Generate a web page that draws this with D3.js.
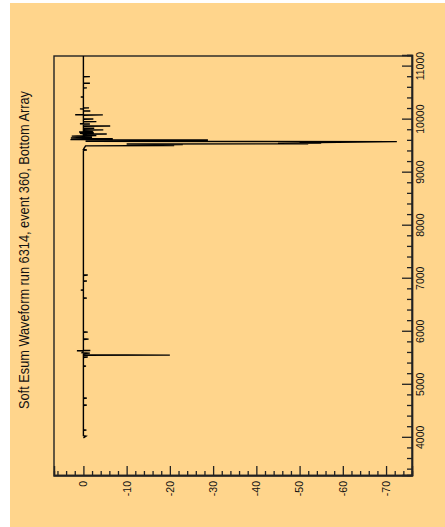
<!DOCTYPE html>
<html lang="en">
<head>
<meta charset="utf-8">
<style>
  body { margin: 0; background: #fff; }
  svg { display: block; }
  .frame { fill: none; stroke: #222; stroke-width: 1.4px; }
  .wave { fill: none; stroke: #000; stroke-width: 1.4px; }
  .axis path { stroke: #222; stroke-width: 1.4px; }
  .axis line { stroke: #222; stroke-width: 1.3px; }
  .axis text { font-family: "Liberation Sans", Arial, sans-serif; font-size: 10.5px; fill: #111; }
  .title { font-family: "Liberation Sans", Arial, sans-serif; font-size: 14.5px; fill: #111; }
</style>
<script src="https://d3js.org/d3.v7.min.js"></script>
</head>
<body>
<script>
var titleText = "Soft Esum Waveform run 6314, event 360, Bottom Array";

// sample axis (vertical, right side) and amplitude axis (bottom)
var sampleTicks = [4000, 5000, 6000, 7000, 8000, 9000, 10000, 11000];
var sampleMinor = [3400, 3600, 3800, 4200, 4400, 4600, 4800, 5200, 5400, 5600, 5800,
                   6200, 6400, 6600, 6800, 7200, 7400, 7600, 7800, 8200, 8400, 8600, 8800,
                   9200, 9400, 9600, 9800, 10200, 10400, 10600, 10800, 11200];
var valueTicks = [0, -10, -20, -30, -40, -50, -60, -70];
var valueMinor = [6, 4, 2, -2, -4, -6, -8, -12, -14, -16, -18, -22, -24, -26, -28,
                  -32, -34, -36, -38, -42, -44, -46, -48, -52, -54, -56, -58,
                  -62, -64, -66, -68, -72, -74];

// waveform
var wfSample = [4000, 4031, 4040, 4140, 4145, 4155, 4610, 4617, 4625, 4740, 4749, 4758,
                5345, 5353, 5360, 5515, 5523, 5530, 5555, 5560, 5566, 5590, 5598, 5605,
                5636, 5641, 5646, 5652, 5855, 5862, 5870, 5988, 5994, 6000, 6630, 6635,
                6642, 6780, 6786, 6792, 6950, 6956, 6962, 7062, 7069, 7076, 9420, 9428,
                9436, 9480, 9490, 9505, 9512, 9520, 9530, 9540, 9545, 9552, 9560, 9565,
                9585, 9592, 9598, 9603, 9610, 9617, 9624, 9632, 9640, 9646, 9655, 9662,
                9668, 9674, 9679, 9684, 9690, 9696, 9702, 9708, 9725, 9730, 9735, 9744,
                9750, 9758, 9764, 9768, 9772, 9777, 9782, 9801, 9806, 9811, 9833, 9838,
                9843, 9876, 9881, 9886, 9914, 9919, 9922, 9926, 9957, 9962, 9967, 10008,
                10013, 10018, 10084, 10089, 10093, 10097, 10160, 10164, 10168, 10198, 10202, 10206,
                10217, 10221, 10225, 10424, 10428, 10432, 10594, 10598, 10602, 10683, 10687, 10691,
                10807, 10811, 10815, 11200];
var wfValue  = [0, -0.6, 0, 0, -0.7, 0, 0, -0.8, 0, 0, -0.8, 0,
                0, -0.6, 0, 0, -1.0, 0, 0, -20, 0, 0, -1.5, 0.3,
                0, 1.5, -1.6, 0, 0, -1.2, 0, 0, -1.0, 0, 0, -0.8,
                0, 0, 0.6, 0, 0, -0.8, 0, 0, -1.0, 0, 0, -0.8,
                0, -0.3, -0.4, -0.5, -21, -13, -23, -10, -52, -45, -55, -50,
                -72.5, -0.5, -15, -11, -1, -28.8, 3.0, 0, -6.8, 0, 2.9, 0,
                -2, 0, -2, 0, 2.7, 0, -3, 0, 0, -5.4, 0, 0.8,
                0, -2.4, 0, 1, 0, -2.2, 0, 0, -4.6, 0, 0, -2.5,
                0, 0, -6.2, 0, 0, -1.5, 0.8, 0, 0, -3, 0, 0,
                -2.3, 0, 0, -4.5, 1.9, 0, 0, -1.6, 0, 0, 0.8, 0,
                0, -1.3, 0, 0, 0.6, 0, 0, -0.8, 0, 0, -1.5, 0,
                0, -1.5, 0, 0];

var width = 445, height = 527;
var frameLeft = 54, frameTop = 56, frameRight = 412, frameBottom = 476;
// chart is drawn un-rotated, then turned a quarter to the left
var W = frameBottom - frameTop, H = frameRight - frameLeft;

var svg = d3.select("body").append("svg")
  .attr("width", width)
  .attr("height", height);

svg.append("rect")
  .attr("x", 10).attr("y", 3)
  .attr("width", width - 10).attr("height", height - 3)
  .attr("fill", "#ffd58c");

var g = svg.append("g")
  .attr("transform", "translate(" + frameLeft + "," + frameBottom + ") rotate(-90)");

var x = d3.scaleLinear().domain([3280, 11200]).range([0, W]);
var y = d3.scaleLinear().domain([6.8, -76]).range([0, H]);

g.append("rect").attr("class", "frame")
  .attr("width", W).attr("height", H);

// minor ticks
g.append("g").attr("class", "axis")
  .attr("transform", "translate(0," + H + ")")
  .call(d3.axisBottom(x).tickValues(sampleMinor).tickSize(-5).tickFormat(""));
g.append("g").attr("class", "axis")
  .call(d3.axisLeft(y).tickValues(valueMinor).tickSize(-5).tickFormat(""));

// major ticks + labels
g.append("g").attr("class", "axis")
  .attr("transform", "translate(0," + H + ")")
  .call(d3.axisBottom(x).tickValues(sampleTicks).tickSize(-10).tickPadding(5).tickFormat(d3.format("d")));
g.append("g").attr("class", "axis")
  .call(d3.axisLeft(y).tickValues(valueTicks).tickSize(-10).tickPadding(5).tickFormat(function(d) { return String(d); }));

var line = d3.line()
  .x(function(d, i) { return x(wfSample[i]); })
  .y(function(d, i) { return y(wfValue[i]); });

g.append("path").attr("class", "wave")
  .datum(wfValue)
  .attr("d", line);

g.append("text").attr("class", "title")
  .attr("x", 226).attr("y", -25)
  .attr("text-anchor", "middle")
  .attr("textLength", 318)
  .attr("lengthAdjust", "spacingAndGlyphs")
  .text(titleText);
</script>
</body>
</html>
